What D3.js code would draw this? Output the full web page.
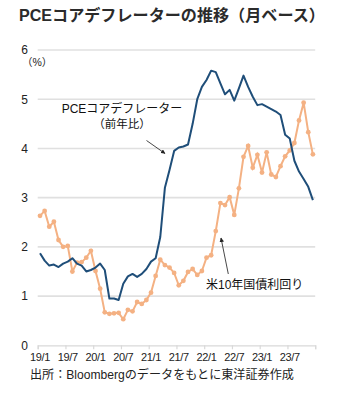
<!DOCTYPE html>
<html><head><meta charset="utf-8">
<script src="https://cdn.jsdelivr.net/npm/d3@7"></script>
<style>
html,body{margin:0;padding:0;background:#fff;}
svg{display:block;font-family:"Liberation Sans","Noto Sans CJK JP",Arial,sans-serif;}
</style></head><body>
<svg id="c" width="340" height="394"></svg>
<script>
const title = "PCEコアデフレーターの推移（月ベース）";
const source = "出所：Bloombergのデータをもとに東洋証券作成";
const xTickLabels = ["19/1","19/7","20/1","20/7","21/1","21/7","22/1","22/7","23/1","23/7"];
const yTicks = [0,1,2,3,4,5,6];
// Core PCE deflator YoY (%), 2019/1 - 2023/12
const corePCE = [
 1.87,1.72,1.62,1.64,1.59,1.66,1.70,1.77,1.66,1.62,1.50,1.53,
 1.58,1.66,1.53,0.95,0.95,0.92,1.25,1.40,1.45,1.39,1.45,1.55,
 1.70,1.77,2.20,3.20,3.56,3.95,4.02,4.04,4.08,4.50,5.00,5.25,
 5.39,5.58,5.55,5.32,5.10,5.19,4.97,5.22,5.48,5.25,5.05,4.88,
 4.90,4.85,4.80,4.75,4.68,4.28,4.20,3.75,3.53,3.38,3.22,2.95
];
// US 10-year Treasury yield (%), month-end
const ust10 = [
 2.63,2.73,2.41,2.51,2.14,2.00,2.02,1.50,1.68,1.69,1.78,1.92,
 1.51,1.15,0.67,0.64,0.65,0.66,0.53,0.72,0.69,0.88,0.84,0.92,
 1.07,1.41,1.74,1.63,1.58,1.47,1.22,1.31,1.49,1.55,1.43,1.51,
 1.78,1.83,2.32,2.89,2.85,3.01,2.65,3.19,3.83,4.05,3.61,3.87,
 3.51,3.92,3.47,3.42,3.64,3.84,3.96,4.11,4.57,4.93,4.33,3.88
];

const svg = d3.select("#c");
const x = d3.scaleLinear().domain([0,60]).range([37.7,315.2]);
const y = d3.scaleLinear().domain([0,6]).range([345.3,50]);

svg.append("text").attr("x",19).attr("y",21)
  .attr("font-size",16.1).attr("font-weight","bold").attr("fill","#2b2b2b")
  .text(title);

// gridlines
svg.append("g").selectAll("line").data(yTicks.filter(d=>d>0)).join("line")
  .attr("x1",x(0)).attr("x2",x(60)).attr("y1",d=>y(d)).attr("y2",d=>y(d))
  .attr("stroke","#e0e0e0").attr("stroke-width",1.6);

// y labels
svg.append("g").selectAll("text").data(yTicks).join("text")
  .attr("x",28).attr("y",d=>y(d)).attr("dy","0.36em")
  .attr("text-anchor","end").attr("font-size",12).attr("fill","#222")
  .text(d=>d);
svg.append("text").attr("x",22).attr("y",66).attr("font-size",10.5).attr("fill","#222").text("（%）");

// x axis
const xAxis = d3.axisBottom(x).tickValues(d3.range(0,61,6)).tickSize(4).tickFormat("");
const gx = svg.append("g").attr("transform",`translate(0,${y(0)})`).call(xAxis);
gx.select(".domain").attr("stroke","#d9d9d9").attr("stroke-width",1.2);
gx.selectAll(".tick line").attr("stroke","#d9d9d9").attr("stroke-width",1.2);
svg.append("g").selectAll("text").data(xTickLabels).join("text")
  .attr("x",(d,i)=>x(i*6+0.5)).attr("y",361)
  .attr("text-anchor","middle").attr("font-size",11).attr("letter-spacing",-0.4).attr("fill","#222")
  .text(d=>d);

// lines
const line = d3.line().x((d,i)=>x(i+0.5)).y(d=>y(d));
svg.append("path").datum(ust10).attr("d",line).attr("fill","none")
  .attr("stroke","#f4b183").attr("stroke-width",2);
svg.append("g").selectAll("circle").data(ust10).join("circle")
  .attr("cx",(d,i)=>x(i+0.5)).attr("cy",d=>y(d)).attr("r",2.4).attr("fill","#f4b183");
svg.append("path").datum(corePCE).attr("d",line).attr("fill","none")
  .attr("stroke","#1f4e79").attr("stroke-width",2).attr("stroke-linejoin","round");

// annotations
const defs = svg.append("defs");
defs.append("marker").attr("id","ah").attr("viewBox","0 0 10 10").attr("refX",9).attr("refY",5)
  .attr("markerWidth",5).attr("markerHeight",5).attr("orient","auto")
  .append("path").attr("d","M0,0L10,5L0,10z").attr("fill","#222");

svg.append("text").attr("x",122).attr("y",113).attr("text-anchor","middle")
  .attr("font-size",12).attr("fill","#111").text("PCEコアデフレーター");
svg.append("text").attr("x",122).attr("y",128).attr("text-anchor","middle")
  .attr("font-size",11.5).attr("fill","#111").text("（前年比）");
svg.append("line").attr("x1",146.5).attr("y1",140.5).attr("x2",165).attr("y2",153.5)
  .attr("stroke","#333").attr("stroke-width",0.9).attr("marker-end","url(#ah)");

svg.append("text").attr("x",206).attr("y",289).attr("font-size",12).attr("fill","#111").text("米10年国債利回り");
svg.append("line").attr("x1",228.3).attr("y1",274).attr("x2",221).attr("y2",238)
  .attr("stroke","#333").attr("stroke-width",0.9).attr("marker-end","url(#ah)");

svg.append("text").attr("x",30).attr("y",379).attr("font-size",12.1).attr("fill","#222").text(source);
</script>
</body></html>
